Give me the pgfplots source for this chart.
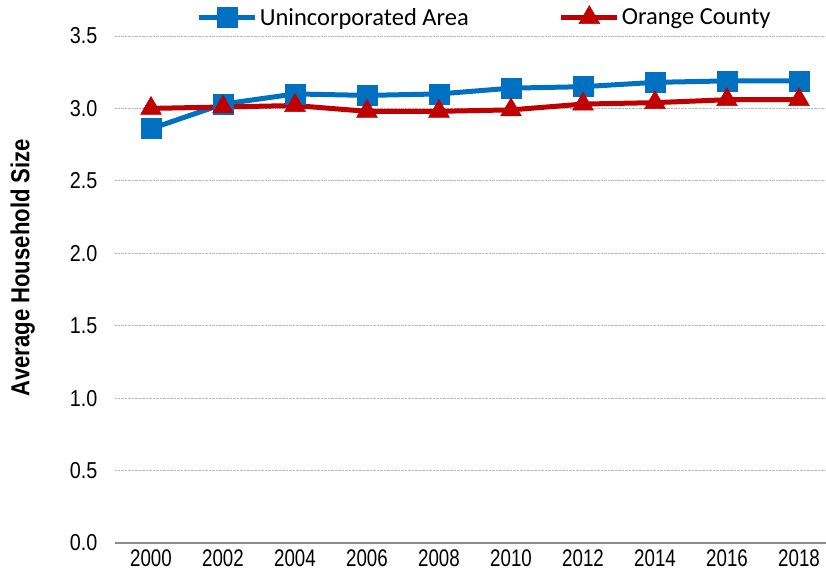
\documentclass[border=0pt]{standalone}
\usepackage{pgfplots}
\pgfplotsset{compat=1.18}
\usepackage{fontspec}
\setmainfont{Liberation Sans}
\newfontfamily\narrowx[FakeStretch=0.78]{Liberation Sans}
\newfontfamily\narrowy[FakeStretch=0.86]{Liberation Sans}
\newfontfamily\narrowl[FakeStretch=0.85]{Liberation Sans}
\newfontfamily\carl{Carlito}
\definecolor{ublue}{HTML}{0070C0}
\definecolor{ored}{HTML}{C00000}
\begin{document}
\begin{tikzpicture}
\path[use as bounding box] (-115pt,-41pt) rectangle (711pt,543pt);
\begin{axis}[
  at={(0,0)}, anchor=origin,
  scale only axis, width=711pt, height=507pt,
  xmin=1999, xmax=2018.75, ymin=0, ymax=3.5,
  xtick={2000,2002,...,2018},
  ytick={0,0.5,...,3.5},
  /pgf/number format/1000 sep={},
  /pgf/number format/assume math mode=true,
  yticklabel={\pgfmathprintnumber[fixed,fixed zerofill,precision=1]{\tick}},
  xticklabel style={font=\narrowx\fontsize{24}{24}\selectfont, text=black, yshift=-3pt},
  yticklabel style={font=\narrowy\fontsize{23}{23}\selectfont, text=black, xshift=-14pt},
  major tick length=0pt,
  axis x line*=bottom, axis y line*=left,
  y axis line style={draw=none},
  x axis line style={draw=gray!90, line width=2pt, -},
  ymajorgrids, grid style={densely dotted, gray!55, line width=0.8pt},
  ylabel={\narrowl\bfseries\fontsize{26}{26}\selectfont Average Household Size},
  ylabel style={at={(axis description cs:0,0.5)}, anchor=south, inner sep=0pt, yshift=80pt, xshift=22pt},
  legend columns=2,
  legend style={at={(axis description cs:0.52,1)}, anchor=south, yshift=5pt, draw=none, fill=none,
    font=\carl\fontsize{24.5}{24.5}\selectfont, /tikz/every even column/.append style={column sep=88pt}},
  legend image code/.code={\draw[mark repeat=2, mark phase=2] plot coordinates {(0pt,0pt) (28pt,0pt) (56pt,0pt)};},
]
\addplot[ublue, line width=5pt, mark=square*, mark size=10pt, mark options={line width=0.5pt}]
  coordinates {(2000,2.86) (2002,3.03) (2004,3.10) (2006,3.09) (2008,3.10) (2010,3.14) (2012,3.15) (2014,3.18) (2016,3.19) (2018,3.19)};
\addlegendentry{Unincorporated Area}
\addplot[ored, line width=5pt, mark=triangle*, mark size=12pt, mark options={line width=0.5pt}]
  coordinates {(2000,3.00) (2002,3.01) (2004,3.02) (2006,2.98) (2008,2.98) (2010,2.99) (2012,3.03) (2014,3.04) (2016,3.06) (2018,3.06)};
\addlegendentry{Orange County}
\end{axis}
\end{tikzpicture}
\end{document}
